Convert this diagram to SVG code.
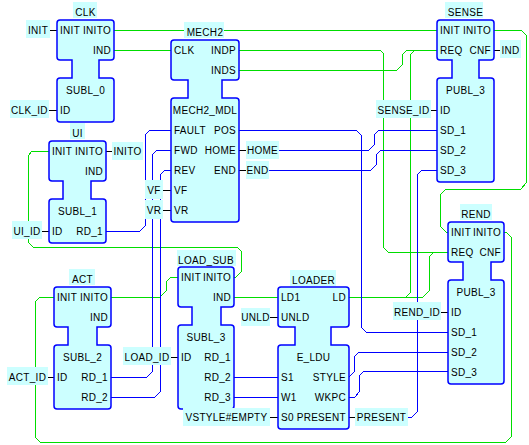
<svg xmlns="http://www.w3.org/2000/svg" width="529" height="445" viewBox="0 0 529 445">
<style>
.blk{fill:#ccffff;stroke:#0000ff;stroke-width:1.5}
.lbl{fill:#ccffff}
.ev{fill:none;stroke:#00dd00;stroke-width:1}
.da{fill:none;stroke:#0000ff;stroke-width:1}
.tie{stroke:#000;stroke-width:1}
text{font-family:"Liberation Sans",Arial,sans-serif;font-size:10px;fill:#000;letter-spacing:0.3px}
.r{text-anchor:end}
.m{text-anchor:middle}
</style>
<rect width="529" height="445" fill="#ffffff"/>
<g id="connectors" shape-rendering="crispEdges">
<path class="ev" d="M114,30 H437"/>
<path class="ev" d="M114,50 H171"/>
<path class="ev" d="M239,50 H380 L383,53 V247 L388,252 H448"/>
<path class="ev" d="M239,70 H397 L402,65 V55 L407,50 H437"/>
<path class="ev" d="M349,297 H406 L410,293 V55 L415,50 H437"/>
<path class="ev" d="M349,297 H423 L429,291 V257 L434,252 H448"/>
<path class="ev" d="M494,30 H521 L526,35 V183 L521,189 H446 L440,195 V226 L446,232 H448"/>
<path class="ev" d="M504,232 H506 L511,237 V437 L506,442 H40 L35,437 V302 L40,297 H54"/>
<path class="ev" d="M234,277 H236 L241,272 V251 L237,247 H33 L28,242 V156 L32,151 H49"/>
<path class="ev" d="M111,297 H160 L166,291 V282 L171,277 H178"/>
<path class="ev" d="M234,297 H278"/>
<path class="da" d="M106,231 H140 L145,226 V135 L150,130 H171"/>
<path class="da" d="M111,377 H147 L152,372 V155 L157,150 H171"/>
<path class="da" d="M111,397 H155 L160,392 V175 L165,170 H171"/>
<path class="da" d="M239,130 H356 L361,135 V327 L366,332 H448"/>
<path class="da" d="M279,150 H369 L374,145 V135 L379,130 H437"/>
<path class="da" d="M269,170 H371 L376,165 V155 L381,150 H437"/>
<path class="da" d="M408,417 H412 L417,412 V175 L422,170 H437"/>
<path class="da" d="M349,377 L354,372 V357 L359,352 H448"/>
<path class="da" d="M349,397 H355 L359,392 V376 L364,371 H448"/>
<path class="da" d="M234,377 H278"/>
<path class="da" d="M234,397 H278"/>
<path class="tie" d="M50,30 H57 M49,110 H57 M494,50 H500 M431,110 H437 M106,151 H112 M42,231 H49 M163,190 H171 M163,210 H171 M239,150 H246 M239,170 H246 M48,377 H54 M171,357 H178 M270,317 H278 M270,417 H278 M349,417 H355 M441,312 H448"/>
</g>

<g id="CLK">
<rect class="lbl" x="73" y="2" width="24" height="16"/>
<text class="m" x="85.5" y="16">CLK</text>
<path class="blk" d="M60,20 H111 Q114,20 114,23 V57 Q114,60 111,60 H99 V78 H111 Q114,78 114,81 V119 Q114,122 111,122 H60 Q57,122 57,119 V81 Q57,78 60,78 H72 V60 H60 Q57,60 57,57 V23 Q57,20 60,20 Z"/>
<text x="60" y="34">INIT</text><text class="r" x="111" y="34">INITO</text>
<text class="r" x="111" y="54">IND</text>
<text class="m" x="85.5" y="94">SUBL_0</text>
<text x="60" y="114">ID</text>
<rect class="lbl" x="26" y="20" width="24" height="18"/><text class="m" x="38" y="34">INIT</text>
<rect class="lbl" x="10" y="100" width="39" height="18"/><text class="m" x="29.5" y="114">CLK_ID</text>
</g>

<g id="MECH2">
<rect class="lbl" x="184" y="22" width="40" height="16"/>
<text class="m" x="205" y="36">MECH2</text>
<path class="blk" d="M174,40 H236 Q239,40 239,43 V77 Q239,80 236,80 H222 V98 H236 Q239,98 239,101 V219 Q239,222 236,222 H174 Q171,222 171,219 V101 Q171,98 174,98 H188 V80 H174 Q171,80 171,77 V43 Q171,40 174,40 Z"/>
<text x="174" y="54">CLK</text><text class="r" x="236" y="54">INDP</text>
<text class="r" x="236" y="74">INDS</text>
<text class="m" x="205" y="114">MECH2_MDL</text>
<text x="174" y="134">FAULT</text><text class="r" x="236" y="134">POS</text>
<text x="174" y="154">FWD</text><text class="r" x="236" y="154">HOME</text>
<text x="174" y="174">REV</text><text class="r" x="236" y="174">END</text>
<text x="174" y="194">VF</text>
<text x="174" y="214">VR</text>
<rect class="lbl" x="145" y="180" width="18" height="19"/><text class="m" x="154" y="194">VF</text>
<rect class="lbl" x="145" y="200" width="18" height="19"/><text class="m" x="154" y="214">VR</text>
<rect class="lbl" x="246" y="141" width="33" height="18"/><text class="m" x="262.5" y="154">HOME</text>
<rect class="lbl" x="246" y="161" width="23" height="18"/><text class="m" x="257.5" y="174">END</text>
</g>

<g id="SENSE">
<rect class="lbl" x="445" y="2" width="38" height="16"/>
<text class="m" x="465.5" y="16">SENSE</text>
<path class="blk" d="M440,20 H491 Q494,20 494,23 V57 Q494,60 491,60 H479 V78 H491 Q494,78 494,81 V179 Q494,182 491,182 H440 Q437,182 437,179 V81 Q437,78 440,78 H452 V60 H440 Q437,60 437,57 V23 Q437,20 440,20 Z"/>
<text x="440" y="34">INIT</text><text class="r" x="491" y="34">INITO</text>
<text x="440" y="54">REQ</text><text class="r" x="491" y="54">CNF</text>
<text class="m" x="465.5" y="94">PUBL_3</text>
<text x="440" y="114">ID</text>
<text x="440" y="134">SD_1</text>
<text x="440" y="154">SD_2</text>
<text x="440" y="174">SD_3</text>
<rect class="lbl" x="500" y="40" width="21" height="18"/><text class="m" x="510.5" y="54">IND</text>
<rect class="lbl" x="376" y="100" width="55" height="18"/><text class="m" x="403.5" y="114">SENSE_ID</text>
</g>

<g id="UI">
<rect class="lbl" x="70" y="123" width="15" height="16"/>
<text class="m" x="77.5" y="137">UI</text>
<path class="blk" d="M52,141 H103 Q106,141 106,144 V178 Q106,181 103,181 H91 V199 H103 Q106,199 106,202 V240 Q106,243 103,243 H52 Q49,243 49,240 V202 Q49,199 52,199 H63 V181 H52 Q49,181 49,178 V144 Q49,141 52,141 Z"/>
<text x="52" y="155">INIT</text><text class="r" x="103" y="155">INITO</text>
<text class="r" x="103" y="175">IND</text>
<text class="m" x="77.5" y="215">SUBL_1</text>
<text x="52" y="235">ID</text><text class="r" x="103" y="235">RD_1</text>
<rect class="lbl" x="112" y="142" width="31" height="18"/><text class="m" x="127.5" y="155">INITO</text>
<rect class="lbl" x="12" y="221" width="30" height="18"/><text class="m" x="27" y="235">UI_ID</text>
</g>

<g id="ACT">
<rect class="lbl" x="69" y="269" width="26" height="16"/>
<text class="m" x="82.5" y="283">ACT</text>
<path class="blk" d="M57,287 H108 Q111,287 111,290 V324 Q111,327 108,327 H97 V345 H108 Q111,345 111,348 V406 Q111,409 108,409 H57 Q54,409 54,406 V348 Q54,345 57,345 H68 V327 H57 Q54,327 54,324 V290 Q54,287 57,287 Z"/>
<text x="57" y="301">INIT</text><text class="r" x="108" y="301">INITO</text>
<text class="r" x="108" y="321">IND</text>
<text class="m" x="82.5" y="361">SUBL_2</text>
<text x="57" y="381">ID</text><text class="r" x="108" y="381">RD_1</text>
<text class="r" x="108" y="401">RD_2</text>
<rect class="lbl" x="7" y="367" width="41" height="18"/><text class="m" x="27.5" y="381">ACT_ID</text>
<rect class="lbl" x="123" y="347" width="48" height="18"/><text class="m" x="147" y="361">LOAD_ID</text>
</g>

<g id="LOAD_SUB">
<rect class="lbl" x="177" y="250" width="59" height="16"/>
<text class="m" x="206" y="264">LOAD_SUB</text>
<path class="blk" d="M181,267 H231 Q234,267 234,270 V304 Q234,307 231,307 H221 V325 H231 Q234,325 234,328 V406 Q234,409 231,409 H181 Q178,409 178,406 V328 Q178,325 181,325 H192 V307 H181 Q178,307 178,304 V270 Q178,267 181,267 Z"/>
<text x="181" y="281">INIT</text><text class="r" x="231" y="281">INITO</text>
<text class="r" x="231" y="301">IND</text>
<text class="m" x="206" y="341">SUBL_3</text>
<text x="181" y="361">ID</text><text class="r" x="231" y="361">RD_1</text>
<text class="r" x="231" y="381">RD_2</text>
<text class="r" x="231" y="401">RD_3</text>
</g>

<g id="LOADER">
<rect class="lbl" x="290" y="270" width="46" height="16"/>
<text class="m" x="313.5" y="284">LOADER</text>
<path class="blk" d="M281,287 H346 Q349,287 349,290 V324 Q349,327 346,327 H331 V345 H346 Q349,345 349,348 V426 Q349,429 346,429 H281 Q278,429 278,426 V348 Q278,345 281,345 H295 V327 H281 Q278,327 278,324 V290 Q278,287 281,287 Z"/>
<text x="281" y="301">LD1</text><text class="r" x="346" y="301">LD</text>
<text x="281" y="321">UNLD</text>
<text class="m" x="313.5" y="361">E_LDU</text>
<text x="281" y="381">S1</text><text class="r" x="346" y="381">STYLE</text>
<text x="281" y="401">W1</text><text class="r" x="346" y="401">WKPC</text>
<text x="281" y="421">S0</text><text class="r" x="346" y="421">PRESENT</text>
<rect class="lbl" x="241" y="308" width="29" height="18"/><text class="m" x="255.5" y="321">UNLD</text>
<rect class="lbl" x="183" y="408" width="87" height="18"/><text class="m" x="226.5" y="421">VSTYLE#EMPTY</text>
<rect class="lbl" x="355" y="408" width="53" height="18"/><text class="m" x="381.5" y="421">PRESENT</text>
</g>

<g id="REND">
<rect class="lbl" x="460" y="204" width="32" height="16"/>
<text class="m" x="476" y="218">REND</text>
<path class="blk" d="M451,222 H501 Q504,222 504,225 V259 Q504,262 501,262 H491 V280 H501 Q504,280 504,283 V381 Q504,384 501,384 H451 Q448,384 448,381 V283 Q448,280 451,280 H463 V262 H451 Q448,262 448,259 V225 Q448,222 451,222 Z"/>
<text x="451" y="236">INIT</text><text class="r" x="501" y="236">INITO</text>
<text x="451" y="256">REQ</text><text class="r" x="501" y="256">CNF</text>
<text class="m" x="476" y="296">PUBL_3</text>
<text x="451" y="316">ID</text>
<text x="451" y="336">SD_1</text>
<text x="451" y="356">SD_2</text>
<text x="451" y="376">SD_3</text>
<rect class="lbl" x="393" y="302" width="48" height="18"/><text class="m" x="417" y="316">REND_ID</text>
</g>
</svg>
